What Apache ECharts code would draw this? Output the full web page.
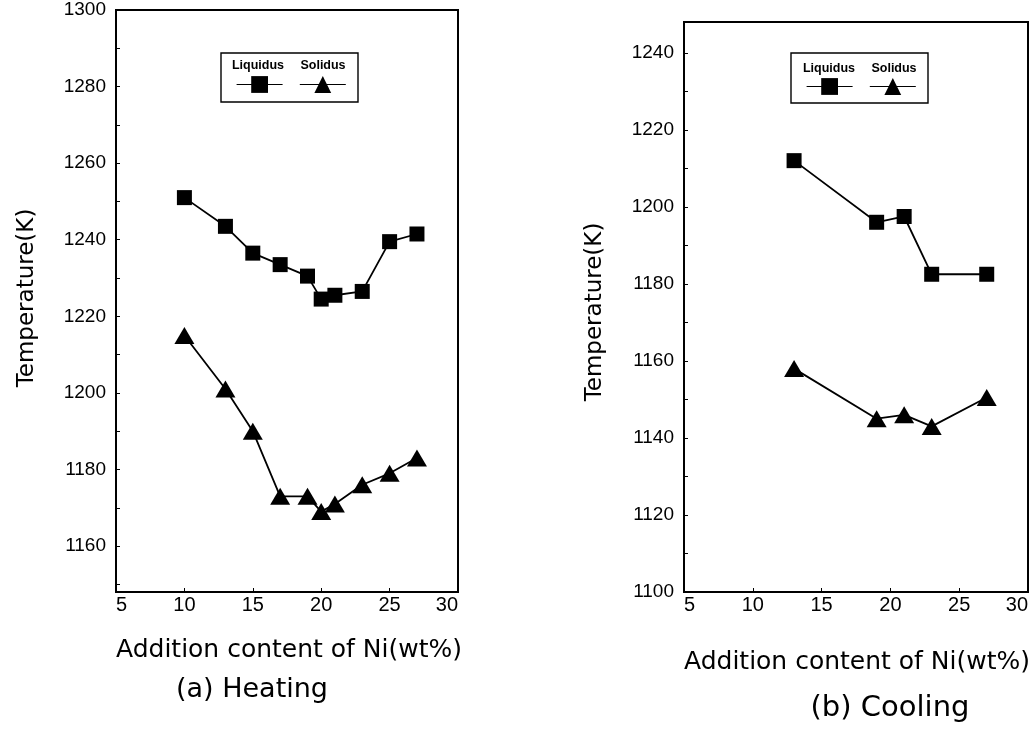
<!DOCTYPE html>
<html>
<head>
<meta charset="utf-8">
<title>Liquidus and solidus temperatures vs Ni content</title>
<script src="https://cdn.jsdelivr.net/npm/echarts@6/dist/echarts.min.js"></script>
<style>
  html, body { margin: 0; padding: 0; background: #ffffff; }
  #chart { width: 1034px; height: 743px; }
</style>
</head>
<body>
<div id="chart"></div>
<script>
// Ni addition (wt%) and measured transformation temperatures (K)
const heatNi       = [10, 13, 15, 17, 19, 20, 21, 23, 25, 27];
const heatLiquidus = [1251, 1243.5, 1236.5, 1233.5, 1230.5, 1224.5, 1225.5, 1226.5, 1239.5, 1241.5];
const heatSolidus  = [1215, 1201, 1190, 1173, 1173, 1169, 1171, 1176, 1179, 1183];

const coolNi       = [13, 19, 21, 23, 27];
const coolLiquidus = [1212, 1196, 1197.5, 1182.5, 1182.5];
const coolSolidus  = [1158, 1145, 1146, 1143, 1150.5];

// Axis ranges and tick values
const xTicks         = [5, 10, 15, 20, 25, 30];
const heatYRange     = [1148, 1300];
const heatYLabels    = [1160, 1180, 1200, 1220, 1240, 1260, 1280, 1300];
const heatYTicks     = [1150, 1160, 1170, 1180, 1190, 1200, 1210, 1220, 1230, 1240, 1250, 1260, 1270, 1280, 1290, 1300];
const coolYRange     = [1100, 1248];
const coolYLabels    = [1100, 1120, 1140, 1160, 1180, 1200, 1220, 1240];
const coolYTicks     = [1100, 1110, 1120, 1130, 1140, 1150, 1160, 1170, 1180, 1190, 1200, 1210, 1220, 1230, 1240];

const seriesNames = ['Liquidus', 'Solidus'];
const panelTitles = ['(a) Heating', '(b) Cooling'];
const xName = 'Addition content of Ni(wt%)';
const yName = 'Temperature(K)';

const FONT = '"DejaVu Sans", "Liberation Sans", sans-serif';
const TICK_FONT = '"Liberation Sans", Arial, sans-serif';
const INK = '#000000';

const pairs = (xs, ys) => xs.map((x, i) => [x, ys[i]]);

const grids = [
  { left: 116, top: 10, width: 342, height: 582 },
  { left: 684, top: 22, width: 344, height: 570 }
];

function xAxisFor(gridIndex) {
  return {
    type: 'value', gridIndex, min: 5, max: 30, interval: 5,
    axisLine: { show: true, lineStyle: { color: INK, width: 2 } },
    axisTick: { show: true, inside: true, length: 4, lineStyle: { color: INK, width: 1 },
                customValues: [10, 15, 20, 25] },
    axisLabel: { color: INK, fontFamily: TICK_FONT, fontSize: 20, margin: 3,
                 customValues: xTicks, alignMinLabel: 'left', alignMaxLabel: 'right',
                 formatter: v => String(v) },
    splitLine: { show: false }
  };
}

function yAxisFor(gridIndex, range, labels, ticks) {
  return {
    type: 'value', gridIndex, min: range[0], max: range[1],
    axisLine: { show: true, lineStyle: { color: INK, width: 2 } },
    axisTick: { show: true, inside: true, length: 4, lineStyle: { color: INK, width: 1 },
                customValues: ticks },
    axisLabel: { color: INK, fontFamily: TICK_FONT, fontSize: 19, margin: 10, customValues: labels,
                 formatter: v => String(v) },
    splitLine: { show: false }
  };
}

function lineSeries(name, idx, xs, ys, symbol, size) {
  return {
    name, type: 'line', xAxisIndex: idx, yAxisIndex: idx,
    data: pairs(xs, ys),
    symbol, symbolSize: size,
    itemStyle: { color: INK },
    lineStyle: { color: INK, width: 1.8 },
    emphasis: { disabled: true },
    animation: false
  };
}

// Legend boxes: frame and captions above the line-and-marker icons
function legendGraphics(boxX, boxY, boxW, boxH, captionY, captionXs) {
  return [
    { type: 'rect', shape: { x: boxX, y: boxY, width: boxW, height: boxH },
      style: { fill: 'none', stroke: INK, lineWidth: 1.4 }, z: 10 },
    ...seriesNames.map((n, i) => ({
      type: 'text', x: captionXs[i], y: captionY, z: 11,
      style: { text: n, fill: INK, font: 'bold 12.5px ' + TICK_FONT, textAlign: 'center', textVerticalAlign: 'middle' }
    }))
  ];
}

function legendFor(left, top) {
  return {
    left, top, orient: 'horizontal',
    data: seriesNames,
    itemWidth: 46, itemHeight: 21, itemGap: 16,
    formatter: () => '',
    lineStyle: { width: 1.2 },
    selectedMode: false,
    padding: 0
  };
}

const option = {
  backgroundColor: '#ffffff',
  animation: false,
  grid: grids.map(g => Object.assign({ show: true, borderColor: INK, borderWidth: 2, backgroundColor: 'transparent' }, g)),
  xAxis: [xAxisFor(0), xAxisFor(1)],
  yAxis: [
    yAxisFor(0, heatYRange, heatYLabels, heatYTicks),
    yAxisFor(1, coolYRange, coolYLabels, coolYTicks)
  ],
  legend: [legendFor(236, 74), legendFor(806, 76)],
  series: [
    lineSeries(seriesNames[0], 0, heatNi, heatLiquidus, 'rect', 15),
    lineSeries(seriesNames[1], 0, heatNi, heatSolidus, 'triangle', [20, 17]),
    lineSeries(seriesNames[0], 1, coolNi, coolLiquidus, 'rect', 15),
    lineSeries(seriesNames[1], 1, coolNi, coolSolidus, 'triangle', [20, 17])
  ],
  graphic: [
    ...legendGraphics(221, 53, 137, 49, 66, [258, 323]),
    ...legendGraphics(791, 53, 137, 50, 69, [829, 894]),
    { type: 'text', x: 27, y: 298, rotation: Math.PI / 2,
      style: { text: yName, fill: INK, font: '23px ' + FONT, textAlign: 'center', textVerticalAlign: 'middle' } },
    { type: 'text', x: 595, y: 312, rotation: Math.PI / 2,
      style: { text: yName, fill: INK, font: '23px ' + FONT, textAlign: 'center', textVerticalAlign: 'middle' } },
    { type: 'text', x: 289, y: 650,
      style: { text: xName, fill: INK, font: '25px ' + FONT, textAlign: 'center', textVerticalAlign: 'middle' } },
    { type: 'text', x: 857, y: 662,
      style: { text: xName, fill: INK, font: '25px ' + FONT, textAlign: 'center', textVerticalAlign: 'middle' } },
    { type: 'text', x: 252, y: 690,
      style: { text: panelTitles[0], fill: INK, font: '27px ' + FONT, textAlign: 'center', textVerticalAlign: 'middle' } },
    { type: 'text', x: 890, y: 708,
      style: { text: panelTitles[1], fill: INK, font: '29px ' + FONT, textAlign: 'center', textVerticalAlign: 'middle' } }
  ]
};

const chart = echarts.init(document.getElementById('chart'), null, { renderer: 'canvas' });
chart.setOption(option);
</script>
</body>
</html>
